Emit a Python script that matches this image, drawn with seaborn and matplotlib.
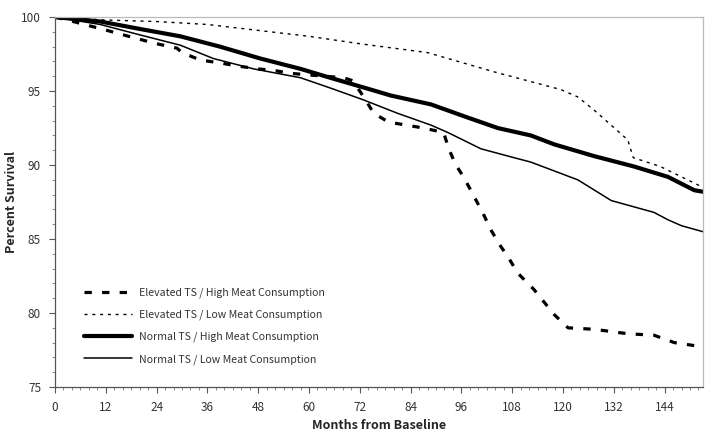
import matplotlib
matplotlib.use("Agg")
import matplotlib.pyplot as plt
import numpy as np
import pandas as pd
import seaborn as sns
from matplotlib.ticker import MultipleLocator

# Elevated TS / High Meat Consumption
ehm_months = [0, 4.3, 8.3, 12.3, 16.1, 20, 24, 28.8, 30, 34.3, 39, 43, 47.8, 51.6,
              55.6, 59.6, 68.2, 70.3, 72.7, 75.3, 78.8, 87.1, 91.8, 93, 94.7,
              96.5, 98.2, 101, 103, 105.3, 107, 109.3, 113.1, 117.9, 121.2, 127.4,
              135.3, 141.5, 146.3, 151, 153]
ehm_values = [100, 99.7, 99.4, 99.1, 98.8, 98.5, 98.2, 97.9, 97.6, 97.1, 96.9, 96.7,
              96.5, 96.4, 96.2, 96.1, 95.9, 95.7, 94.7, 93.5, 92.9, 92.5, 92.2,
              91.1, 90.0, 89.2, 88.3, 86.8, 85.6, 84.5, 83.8, 82.7, 81.6, 79.9, 79.0,
              78.9, 78.6, 78.5, 78.0, 77.8, 77.8]

# Elevated TS / Low Meat Consumption
elm_months = [0, 12, 24, 36, 48, 60, 72, 88, 103.7, 119.5, 123.5, 127.4, 135.3,
              136.6, 143, 153]
elm_values = [100, 99.8, 99.7, 99.5, 99.1, 98.7, 98.2, 97.6, 96.3, 95.1, 94.6,
              93.7, 91.7, 90.5, 89.9, 88.5]

# Normal TS / High Meat Consumption
nhm_months = [0, 10.7, 20, 29.6, 39, 48.5, 58, 65, 74.6, 79.3, 88.8, 96.6, 104.6,
              112.4, 117.9, 127.4, 136.8, 144.8, 151, 153]
nhm_values = [100, 99.7, 99.2, 98.7, 98.0, 97.2, 96.5, 95.9, 95.1, 94.7, 94.1,
              93.3, 92.5, 92.0, 91.4, 90.6, 89.9, 89.2, 88.3, 88.2]

# Normal TS / Low Meat Consumption
nlm_months = [0, 10.7, 20, 29.6, 37.4, 46.9, 58, 65.1, 72.9, 80.9, 88.8, 92.8,
              100.6, 108.4, 112.4, 123.5, 131.4, 141.5, 144.8, 148, 153]
nlm_values = [100, 99.5, 98.8, 98.1, 97.2, 96.5, 95.9, 95.2, 94.4, 93.5, 92.7,
              92.2, 91.1, 90.5, 90.2, 89.0, 87.6, 86.8, 86.3, 85.9, 85.5]

series = [
    ("Elevated TS / High Meat Consumption", ehm_months, ehm_values,
     dict(lw=2.3, dashes=(2.3, 3.2))),
    ("Elevated TS / Low Meat Consumption", elm_months, elm_values,
     dict(lw=1.0, dashes=(2.2, 3.4))),
    ("Normal TS / High Meat Consumption", nhm_months, nhm_values,
     dict(lw=3.0)),
    ("Normal TS / Low Meat Consumption", nlm_months, nlm_values,
     dict(lw=1.1)),
]

sns.set_style("white")
plt.rcParams["font.family"] = ["Noto Sans CJK KR", "DejaVu Sans"]

fig = plt.figure(figsize=(7.2, 4.38), dpi=100)
ax = fig.add_axes([0.0764, 0.1164, 0.8996, 0.8446])

for name, months, values, style in series:
    df = pd.DataFrame({"month": months, "value": values})
    sns.lineplot(data=df, x="month", y="value", ax=ax, color="black",
                 label=name, linewidth=style["lw"], estimator=None,
                 sort=False)
    line = ax.get_lines()[-1]
    if "dashes" in style:
        line.set_dashes(style["dashes"])
        line.set_dash_capstyle("butt")

ax.set_xlim(0, 153)
ax.set_ylim(75, 100)
ax.xaxis.set_major_locator(MultipleLocator(12))
ax.xaxis.set_minor_locator(MultipleLocator(2))
ax.yaxis.set_major_locator(MultipleLocator(5))
ax.yaxis.set_minor_locator(MultipleLocator(1))

ax.tick_params(axis="both", which="major", direction="out", length=4,
               width=0.8, color="#555555", labelsize=8.5,
               labelcolor="#333333", bottom=True, left=True)
ax.tick_params(axis="both", which="minor", direction="out", length=2.5,
               width=0.6, color="#777777", bottom=True, left=True)
ax.tick_params(axis="x", pad=6)
ax.tick_params(axis="y", pad=6)

for side in ["left", "bottom"]:
    ax.spines[side].set_color("#555555")
    ax.spines[side].set_linewidth(0.9)
for side in ["top", "right"]:
    ax.spines[side].set_color("#bbbbbb")
    ax.spines[side].set_linewidth(0.9)

ax.set_xlabel("Months from Baseline", fontsize=9, fontweight="bold", labelpad=4)
ax.set_ylabel("Percent Survival", fontsize=9, fontweight="bold")
ax.yaxis.set_label_coords(-0.057, 0.5)

ax.legend(loc="lower left", bbox_to_anchor=(0.03, 0.035), frameon=False,
          fontsize=7.6, handlelength=4.6, handletextpad=0.6, labelspacing=1.1,
          labelcolor="#333333")

fig.savefig("out.png", dpi=100)
